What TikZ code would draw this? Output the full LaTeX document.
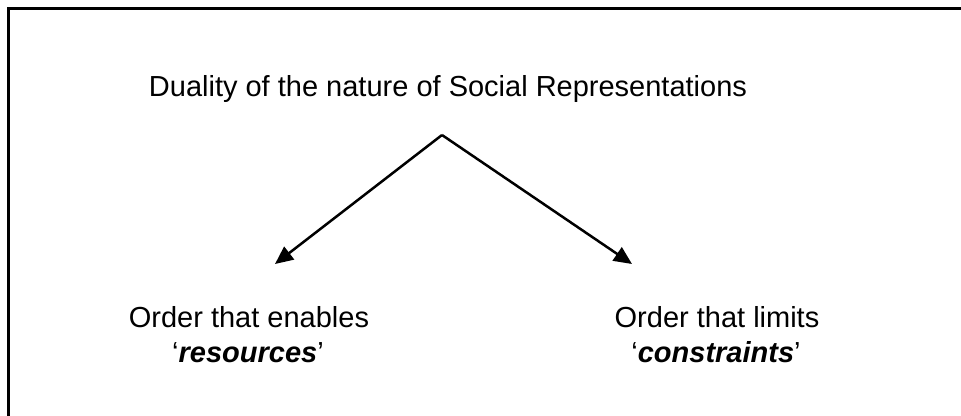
\documentclass[tikz,border=0pt]{standalone}
\usepackage{fontspec}
\setmainfont{Liberation Sans}
\usetikzlibrary{arrows.meta}
\tikzset{
  lbl/.style={inner sep=0pt, anchor=base, font=\fontsize{29}{35}\selectfont},
  frameline/.style={line width=3pt, line cap=rect},
  arr/.style={line width=2.5pt, -{Triangle[length=18pt,width=16pt]}}
}
\begin{document}
\begin{tikzpicture}[x=1pt,y=-1pt]
\useasboundingbox (0,0) rectangle (961,415);
\draw[frameline] (8,415) -- (8,8) -- (961,8);
\node[lbl] (title) at (448,96) {Duality of the nature of Social Representations};
\coordinate (apex) at (442,135);
\coordinate (ltip) at (275,264);
\coordinate (rtip) at (632,264);
\node[lbl] (l1) at (249,327) {Order that enables};
\node[lbl] (l2) at (248,362) {‘\textbf{\textit{resources}}’};
\node[lbl] (r1) at (717,327) {Order that limits};
\node[lbl] (r2) at (716,362) {‘\textbf{\textit{constraints}}’};
\draw[arr] (apex) -- (ltip);
\draw[arr] (apex) -- (rtip);
\end{tikzpicture}
\end{document}
